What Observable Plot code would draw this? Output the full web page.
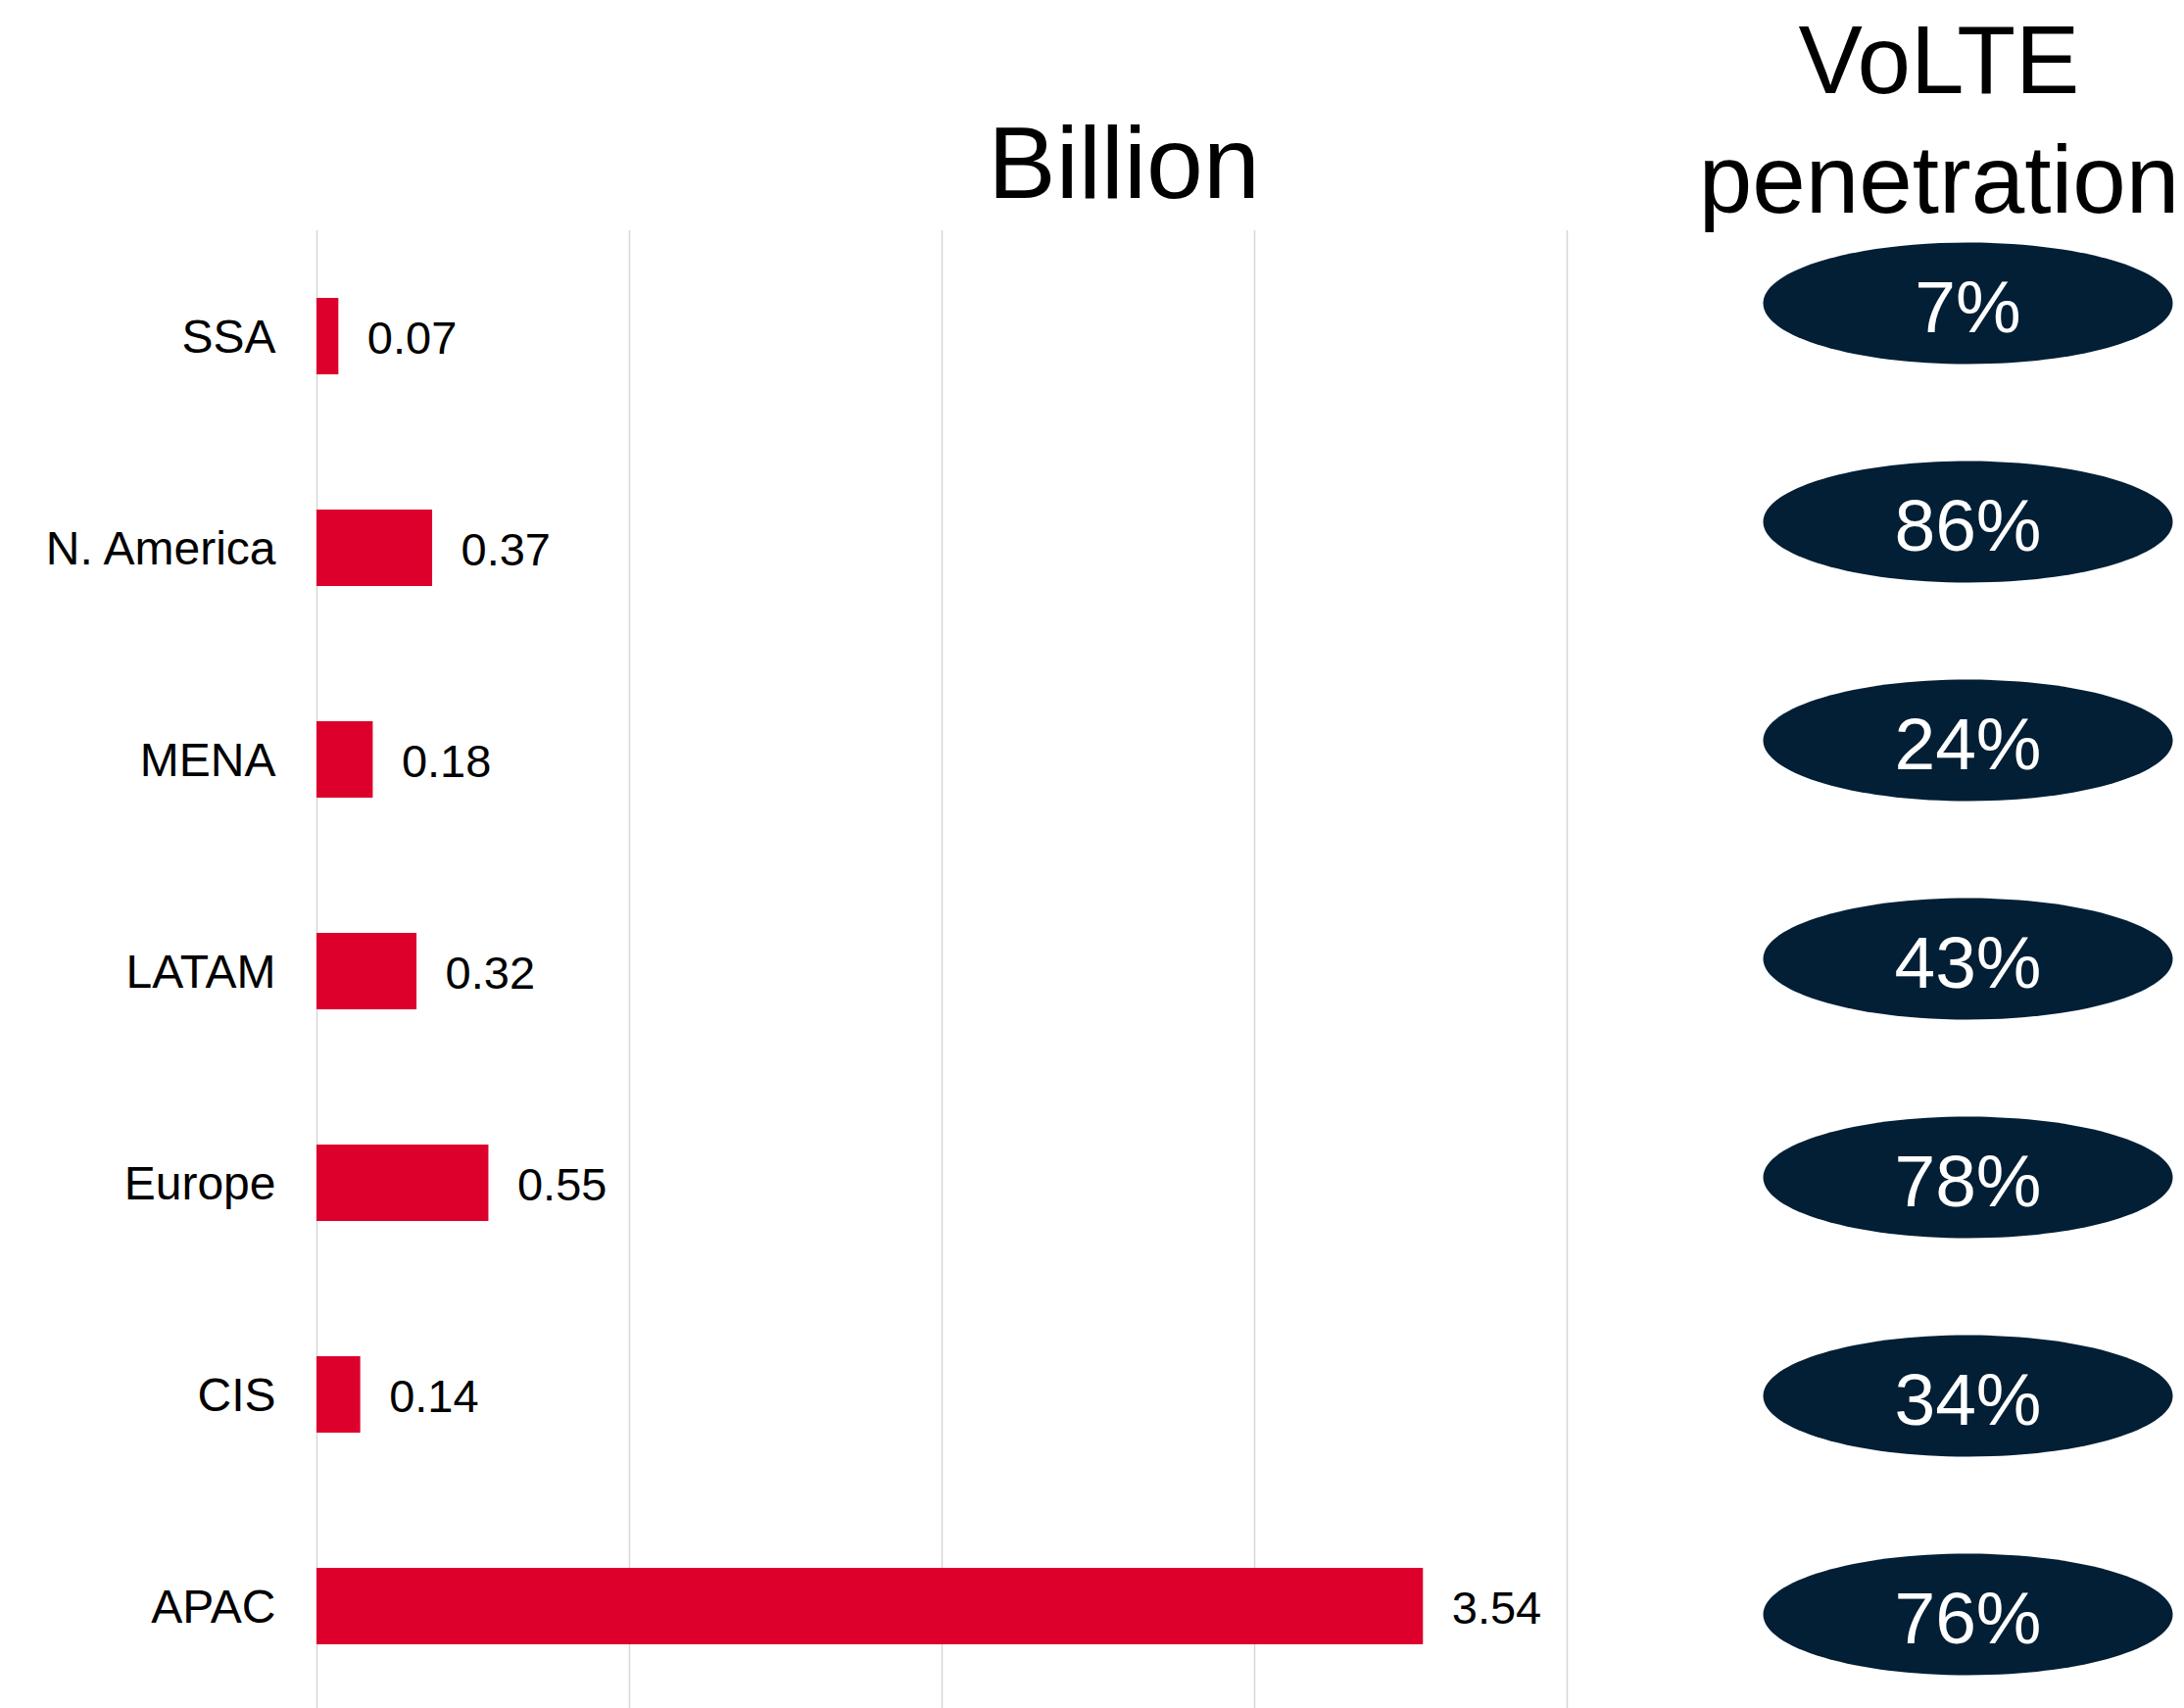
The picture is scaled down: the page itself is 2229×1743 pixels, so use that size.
<!DOCTYPE html>
<html>
<head>
<meta charset="utf-8">
<script src="https://cdn.jsdelivr.net/npm/d3@7"></script>
<script src="https://cdn.jsdelivr.net/npm/@observablehq/plot@0.6"></script>
<style>
  html, body { margin: 0; padding: 0; background: #fff; }
  #wrap { position: relative; width: 2229px; height: 1743px; overflow: hidden; font-family: "Liberation Sans", Arial, sans-serif; }
  #wrap svg { position: absolute; left: 0; top: 0; overflow: visible; max-width: none; }
  .title { position: absolute; white-space: nowrap; text-align: center; color: #000; transform: translateX(-50%); }
</style>
</head>
<body>
<div id="wrap">
  <div class="title" id="t1" style="left:1147px; top:114px; font-size:104px; line-height:104px;">Billion</div>
  <div class="title" id="t2" style="left:1979px; top:0px; font-size:98px; line-height:122px;">VoLTE<br>penetration</div>
</div>
<script>
const regions = ["SSA", "N. America", "MENA", "LATAM", "Europe", "CIS", "APAC"];
const users = [0.07, 0.37, 0.18, 0.32, 0.55, 0.14, 3.54];
const penetration = [7, 86, 24, 43, 78, 34, 76];
const xTicks = [0, 1, 2, 3, 4];

const rows = regions.map((r, i) => ({region: r, users: users[i], pen: penetration[i]}));
const font = '"Liberation Sans", Arial, sans-serif';

const bars = Plot.plot({
  width: 2229,
  height: 1743,
  marginTop: 235,
  marginBottom: -4,
  marginLeft: 323,
  marginRight: 630,
  style: {fontFamily: font, background: "transparent", overflow: "visible"},
  x: {domain: [0, 4], axis: null},
  y: {domain: regions, paddingInner: 0.637, paddingOuter: 0.3185, axis: null},
  marks: [
    Plot.ruleX(xTicks, {stroke: "#d6d6d6", strokeWidth: 1.5}),
    Plot.barX(rows, {x: "users", y: "region", fill: "#DD002C"}),
    Plot.text(rows, {x: "users", y: "region", text: d => d.users.toFixed(2), dx: 29, dy: 2, textAnchor: "start", fontSize: 47, fill: "#000"}),
    Plot.axisY({tickSize: 0, tickPadding: 42, fontSize: 48, label: null, fill: "#000", dy: 1})
  ]
});

const ellipse = {
  draw(ctx, size) {
    const rx = 209, ry = 62, k = 0.5523;
    ctx.moveTo(-rx, 0);
    ctx.bezierCurveTo(-rx, -ry * k, -rx * k, -ry, 0, -ry);
    ctx.bezierCurveTo(rx * k, -ry, rx, -ry * k, rx, 0);
    ctx.bezierCurveTo(rx, ry * k, rx * k, ry, 0, ry);
    ctx.bezierCurveTo(-rx * k, ry, -rx, ry * k, -rx, 0);
    ctx.closePath();
  }
};

const pills = Plot.plot({
  width: 2229,
  height: 1743,
  marginTop: 195,
  marginBottom: -17,
  marginLeft: 1787,
  marginRight: 0,
  style: {fontFamily: font, background: "transparent", overflow: "visible"},
  y: {type: "point", domain: regions, padding: 0.5, axis: null},
  marks: [
    Plot.dot(rows, {y: "region", symbol: ellipse, r: 10, fill: "#021F35", stroke: "none"}),
    Plot.text(rows, {y: "region", text: d => d.pen + "%", fill: "#fff", fontSize: 75, dy: 5})
  ]
});

const wrap = document.getElementById("wrap");
wrap.insertBefore(pills, wrap.firstChild);
wrap.insertBefore(bars, wrap.firstChild);
</script>
</body>
</html>
